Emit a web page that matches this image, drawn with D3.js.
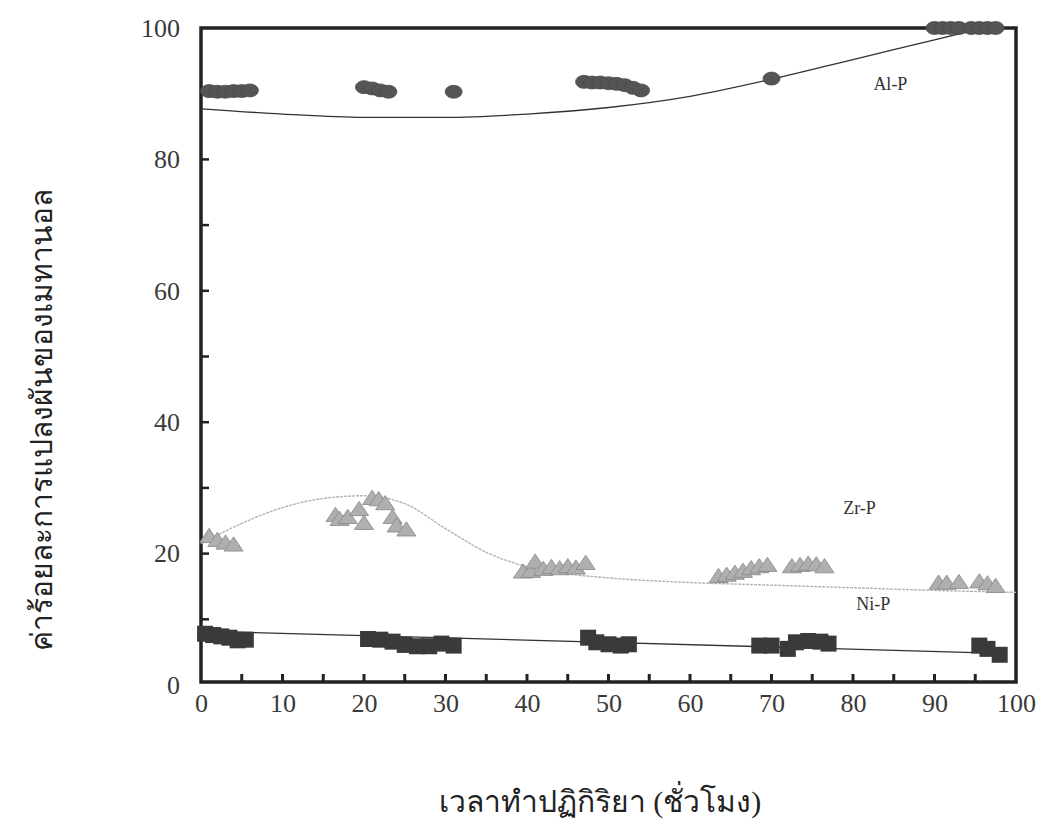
<!DOCTYPE html>
<html>
<head>
<meta charset="utf-8">
<script src="https://cdn.jsdelivr.net/npm/d3@7"></script>
<style>
  body { margin: 0; background: #fff; }
  svg text { font-family: "Liberation Serif", "DejaVu Serif", serif; }
</style>
</head>
<body>
<svg id="chart" width="1041" height="825"></svg>
<script>
// x ticks / y ticks
var xTicks = [0, 10, 20, 30, 40, 50, 60, 70, 80, 90, 100];
var yTicks = [0, 20, 40, 60, 80, 100];

// Al-P (circles)
var alX = [1, 2, 3, 4, 5, 6, 20, 21, 22, 23, 31, 47, 48, 49, 50, 51, 52, 53, 54, 70, 90, 91, 92, 93, 94.5, 95.5, 96.5, 97.5];
var alY = [90.4, 90.3, 90.3, 90.4, 90.4, 90.5, 91, 90.8, 90.5, 90.3, 90.3, 91.8, 91.7, 91.7, 91.6, 91.5, 91.3, 90.9, 90.5, 92.3, 100, 100, 100, 100, 100, 100, 100, 100];
// Al-P trend
var alFitX = [0, 10, 20, 30, 40, 50, 60, 70, 80, 90, 96];
var alFitY = [87.7, 86.9, 86.4, 86.4, 86.9, 87.9, 89.6, 92.2, 95.2, 98.2, 100];

// Zr-P (triangles)
var zrX = [1, 2, 3, 4, 16.5, 17, 18, 19.4, 20, 21, 21.8, 22.6, 23.5, 24, 25.2,
           39.5, 40.5, 41, 42, 43, 44, 45, 46, 47.2,
           63.5, 64.5, 65.5, 66.5, 67.5, 68.5, 69.5,
           72.5, 73.5, 74.5, 75.5, 76.5,
           90.5, 91.5, 93, 95.5, 96.5, 97.5];
var zrY = [22.4, 21.8, 21.4, 21.1, 25.6, 25, 25.3, 26.5, 24.4, 28.2, 28, 27.4, 25.3, 24, 23.4,
           17, 17.1, 18.5, 17.4, 17.7, 17.5, 17.8, 17.6, 18.3,
           16.3, 16.5, 16.8, 17.1, 17.5, 17.8, 18,
           17.8, 18, 18.2, 18.1, 17.8,
           15.3, 15.3, 15.4, 15.5, 15.2, 14.8];
// Zr-P trend
var zrFitX = [0, 5, 10, 15, 20, 25, 30, 35, 40, 45, 50, 60, 70, 80, 90, 100];
var zrFitY = [21.5, 24.6, 27, 28.4, 28.8, 27.6, 23.8, 20.2, 18, 16.9, 16.3, 15.6, 15.2, 14.8, 14.4, 14.1];

// Ni-P (squares)
var niX = [0.5, 1.5, 2.5, 3.5, 4.5, 5.5, 20.5, 22, 23.5, 25, 26.5, 28, 29.5, 31,
           47.5, 48.5, 50, 51.5, 52.5, 68.5, 70, 72, 73, 74.5, 76, 77, 95.5, 96.5, 98];
var niY = [7.8, 7.6, 7.4, 7.2, 6.8, 6.9, 7, 6.9, 6.6, 6.1, 5.9, 5.9, 6.3, 6,
           7.2, 6.5, 6.2, 6, 6.2, 6, 6, 5.5, 6.5, 6.7, 6.6, 6.3, 6, 5.5, 4.6];
// Ni-P trend
var niFitX = [0, 96];
var niFitY = [8.2, 4.9];

var seriesLabels = ["Al-P", "Zr-P", "Ni-P"];
var labelPos = [[82.5, 90.6], [78.8, 26], [80.4, 11.4]];

var margin = {top: 28, right: 25, bottom: 140, left: 201},
    width = 1016 - margin.left,
    height = 685 - margin.top;

var svg = d3.select("#chart");
var g = svg.append("g")
  .attr("transform", "translate(" + margin.left + "," + margin.top + ")");

var x = d3.scaleLinear().domain([0, 100]).range([0, width]);
var y = d3.scaleLinear().domain([0, 100]).range([height, 0]);

function zip(a, b) { return a.map(function (v, i) { return [v, b[i]]; }); }

// frame
g.append("rect")
  .attr("x", 0).attr("y", 0)
  .attr("width", width).attr("height", height - 3)
  .attr("fill", "none")
  .attr("stroke", "#222")
  .attr("stroke-width", 3.5);

// inner minor ticks
g.selectAll(".xt")
  .data(d3.range(5, 100, 5))
  .enter().append("line")
  .attr("x1", function (d) { return x(d); })
  .attr("x2", function (d) { return x(d); })
  .attr("y1", height - 3).attr("y2", height - 11)
  .attr("stroke", "#222").attr("stroke-width", 3);

g.selectAll(".yt")
  .data(d3.range(10, 100, 10))
  .enter().append("line")
  .attr("x1", 0).attr("x2", 8)
  .attr("y1", function (d) { return y(d); })
  .attr("y2", function (d) { return y(d); })
  .attr("stroke", "#222").attr("stroke-width", 2.5);

// tick labels
var xAxis = d3.axisBottom(x).tickValues(xTicks).tickSize(0).tickPadding(0);
var xg = g.append("g")
  .attr("transform", "translate(0," + (height + 9) + ")")
  .call(xAxis);
xg.select(".domain").remove();
xg.selectAll("text")
  .attr("dy", "0.71em")
  .attr("font-size", 26)
  .attr("fill", "#3a3a3a");

var yAxis = d3.axisLeft(y).tickValues(yTicks).tickSize(0).tickPadding(21);
var yg = g.append("g").call(yAxis);
yg.select(".domain").remove();
yg.selectAll("text")
  .attr("font-size", 26)
  .attr("fill", "#3a3a3a");

// trend lines
var line = d3.line()
  .x(function (d) { return x(d[0]); })
  .y(function (d) { return y(d[1]); })
  .curve(d3.curveMonotoneX);

g.append("path")
  .datum(zip(alFitX, alFitY))
  .attr("d", line)
  .attr("fill", "none")
  .attr("stroke", "#333")
  .attr("stroke-width", 1.3);

g.append("path")
  .datum(zip(zrFitX, zrFitY))
  .attr("d", line)
  .attr("fill", "none")
  .attr("stroke", "#b4b4b4")
  .attr("stroke-width", 1.4)
  .attr("stroke-dasharray", "3,1");

g.append("path")
  .datum(zip(niFitX, niFitY))
  .attr("d", line)
  .attr("fill", "none")
  .attr("stroke", "#333")
  .attr("stroke-width", 1.3);

// Al-P markers
g.selectAll(".al")
  .data(zip(alX, alY))
  .enter().append("ellipse")
  .attr("cx", function (d) { return x(d[0]); })
  .attr("cy", function (d) { return y(d[1]); })
  .attr("rx", 8.5).attr("ry", 6.5)
  .attr("fill", "#555")
  .attr("stroke", "#4a4a4a")
  .attr("stroke-width", 0.8);

// Zr-P markers
var tri = d3.symbol().type(d3.symbolTriangle).size(130);
g.selectAll(".zr")
  .data(zip(zrX, zrY))
  .enter().append("path")
  .attr("d", tri)
  .attr("transform", function (d) { return "translate(" + x(d[0]) + "," + y(d[1]) + ") scale(1.1,0.95)"; })
  .attr("fill", "#aeb0b0")
  .attr("stroke", "#888")
  .attr("stroke-width", 0.8);

// Ni-P markers
g.selectAll(".ni")
  .data(zip(niX, niY))
  .enter().append("rect")
  .attr("x", function (d) { return x(d[0]) - 8; })
  .attr("y", function (d) { return y(d[1]) - 8; })
  .attr("width", 16).attr("height", 16)
  .attr("fill", "#3a3a3a");

// series labels
g.selectAll(".slabel")
  .data(seriesLabels)
  .enter().append("text")
  .attr("x", function (d, i) { return x(labelPos[i][0]); })
  .attr("y", function (d, i) { return y(labelPos[i][1]); })
  .attr("font-size", 18)
  .attr("fill", "#333")
  .text(function (d) { return d; });

// axis titles
svg.append("text")
  .attr("x", 600).attr("y", 812)
  .attr("text-anchor", "middle")
  .attr("font-size", 30)
  .attr("fill", "#222")
  .text("เวลาทำปฏิกิริยา (ชั่วโมง)");

svg.append("text")
  .attr("transform", "translate(52,420) rotate(-90)")
  .attr("text-anchor", "middle")
  .attr("font-size", 30)
  .attr("fill", "#222")
  .text("ค่าร้อยละการแปลงผันของเมทานอล");
</script>
</body>
</html>
